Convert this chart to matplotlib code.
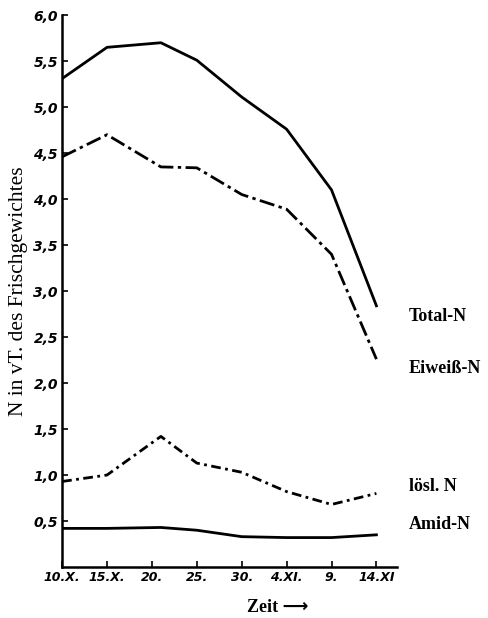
import numpy as np
import matplotlib.pyplot as plt

# Tage ab 10.X
tage = [0, 5, 11, 15, 20, 25, 30, 35]
tick_pos = [0, 5, 10, 15, 20, 25, 30, 35]
tick_lab = ["10.X.", "15.X.", "20.", "25.", "30.", "4.XI.", "9.", "14.XI"]

total_n = [5.31, 5.65, 5.70, 5.51, 5.11, 4.76, 4.10, 2.84]
eiweiss_n = [4.46, 4.70, 4.35, 4.34, 4.05, 3.89, 3.40, 2.26]
loesl_n = [0.93, 1.00, 1.42, 1.13, 1.03, 0.82, 0.68, 0.80]
amid_n = [0.42, 0.42, 0.43, 0.40, 0.33, 0.32, 0.32, 0.35]

y_ticks = [0.5, 1.0, 1.5, 2.0, 2.5, 3.0, 3.5, 4.0, 4.5, 5.0, 5.5, 6.0]

fig = plt.figure(figsize=(4.89, 6.18), dpi=100)
ax = fig.add_axes([0.127, 0.0825, 0.685, 0.893])

lw = 2.0
ax.plot(tage, total_n, color="black", lw=lw, solid_joinstyle="round")
ax.plot(tage, eiweiss_n, color="black", lw=lw, dashes=(5.5, 1.6, 1.2, 1.6))
ax.plot(tage, loesl_n, color="black", lw=lw, dashes=(3.5, 1.6, 1, 1.6))
ax.plot(tage, amid_n, color="black", lw=lw, solid_joinstyle="round")

ax.set_xlim(0, 37.3)
ax.set_ylim(0, 6.0)
ax.set_xticks(tick_pos)
ax.set_xticklabels(tick_lab, fontstyle="italic", fontweight="bold", fontsize=9)
ax.set_yticks(y_ticks)
ax.set_yticklabels([f"{v:.1f}".replace(".", ",") for v in y_ticks],
                   fontstyle="italic", fontweight="bold", fontsize=10)
ax.tick_params(direction="in", length=4, width=1.2, pad=3)

for s in ["top", "right"]:
    ax.spines[s].set_visible(False)
for s in ["left", "bottom"]:
    ax.spines[s].set_linewidth(1.8)

ax.set_ylabel("N in vT. des Frischgewichtes", family="Liberation Serif",
              fontsize=15.5, labelpad=4)

serif = dict(family="Liberation Serif", fontweight="bold", fontsize=13,
             transform=ax.transData, clip_on=False, va="center")
ax.text(38.6, 2.72, "Total-N", **serif)
ax.text(38.6, 2.16, "Eiweiß-N", **serif)
ax.text(38.6, 0.88, "lösl. N", **serif)
ax.text(38.6, 0.46, "Amid-N", **serif)

fig.text(0.505, 0.003, "Zeit \u27f6", family=["Liberation Serif", "DejaVu Sans"],
         fontweight="bold", fontsize=13, ha="left", va="bottom")

fig.savefig("out.png", dpi=100)
